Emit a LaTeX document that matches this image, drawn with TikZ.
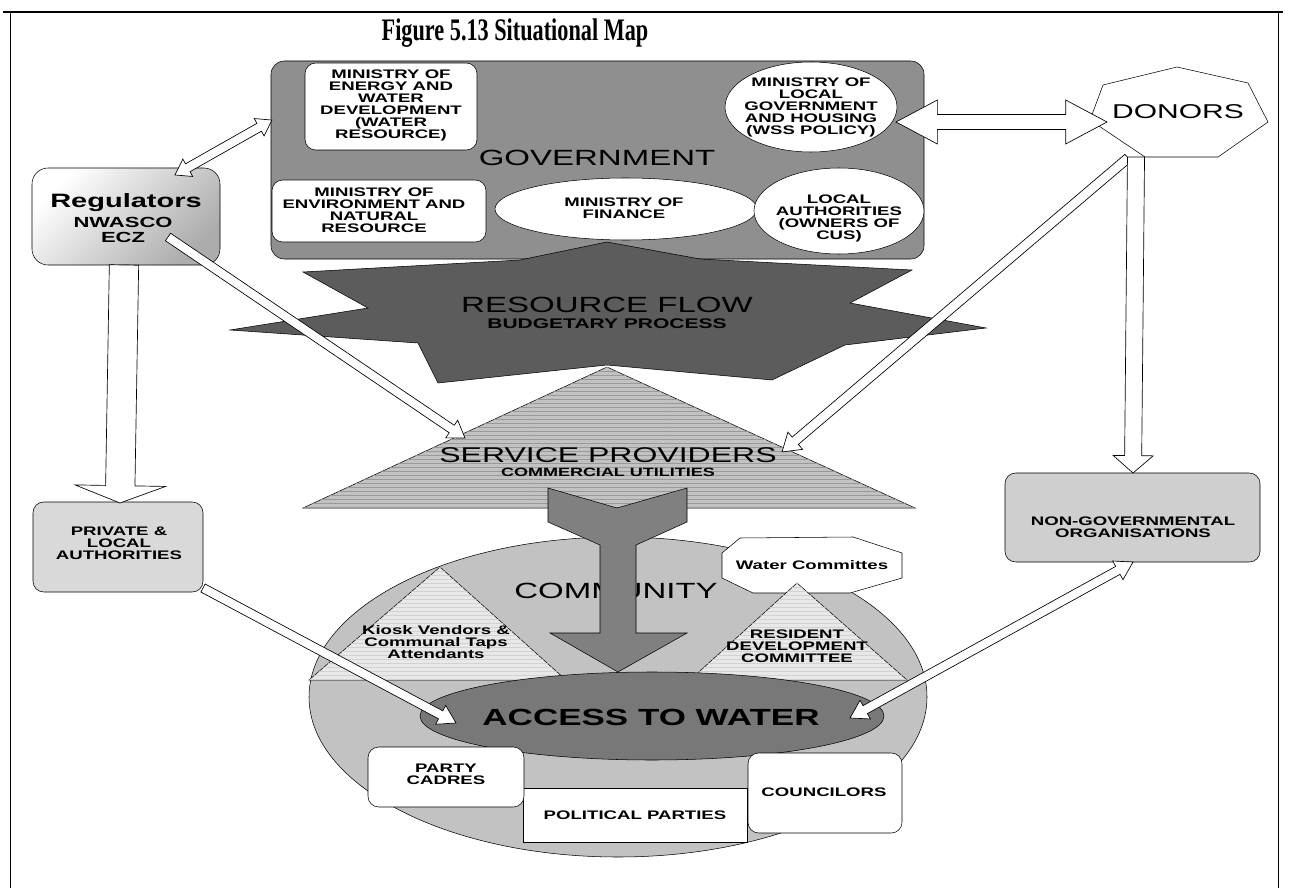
\documentclass[tikz,border=0pt]{standalone}
\usepackage{fontspec}
\setmainfont{Liberation Sans}
\newfontfamily\widesf[FakeStretch=1.5]{Liberation Sans}
\newfontfamily\titlerm[FakeStretch=0.71]{Liberation Serif}
\usepackage{tikz}
\usetikzlibrary{calc,patterns}
\definecolor{govgray}{gray}{0.56}
\definecolor{stargray}{gray}{0.36}
\definecolor{provgray}{gray}{0.76}
\definecolor{stripegray}{gray}{0.6}
\definecolor{commgray}{gray}{0.76}
\definecolor{accessgray}{gray}{0.47}
\definecolor{flowgray}{gray}{0.5}
\definecolor{palegray}{gray}{0.91}
\tikzset{
    lbl/.style = {
        font=\widesf\bfseries\fontsize{9.3}{9}\selectfont,
        align=center,
        inner sep=0pt
    },
    biglbl/.style = {
        font=\widesf\fontsize{16.5}{18}\selectfont,
        inner sep=0pt
    },
    whitebox/.style = {
        draw,
        fill=white,
        rounded corners=8pt
    },
    greybox/.style = {
        draw,
        rounded corners=8pt
    },
    fatarrow line/.style = {
        draw,
        fill=white,
        line width=0.5pt
    },
}
% tail, tip, shaft half width, head half width, head length
\newcommand\fatarrow[5]{%
    \path let \p1=(#1), \p2=(#2) in
        \pgfextra{\pgfmathsetmacro\faang{atan2(\y2-\y1,\x2-\x1)}%
            \pgfmathsetmacro\falen{veclen(\x2-\x1,\y2-\y1)}%
            \global\let\faang\faang\global\let\falen\falen};
    \path[fatarrow line, shift={(#1)}, rotate=\faang]
        (0pt,-#3) -- ({\falen pt-#5},-#3) -- ({\falen pt-#5},-#4) -- (\falen pt,0pt)
        -- ({\falen pt-#5},#4) -- ({\falen pt-#5},#3) -- (0pt,#3) -- cycle;
}
\newcommand\fatdarrow[5]{%
    \path let \p1=(#1), \p2=(#2) in
        \pgfextra{\pgfmathsetmacro\faang{atan2(\y2-\y1,\x2-\x1)}%
            \pgfmathsetmacro\falen{veclen(\x2-\x1,\y2-\y1)}%
            \global\let\faang\faang\global\let\falen\falen};
    \path[fatarrow line, shift={(#1)}, rotate=\faang]
        (0pt,0pt) -- (#5,#4) -- (#5,#3) -- ({\falen pt-#5},#3) -- ({\falen pt-#5},#4)
        -- (\falen pt,0pt) -- ({\falen pt-#5},-#4) -- ({\falen pt-#5},-#3)
        -- (#5,-#3) -- (#5,-#4) -- cycle;
}

\begin{document}
\begin{tikzpicture}[x=0.75pt, y=-0.75pt]
    \useasboundingbox (0,0) rectangle (1289,888);
    \draw[line width=1.2pt] (3,12) -- (1283,12);
    \draw (10,12) -- (10,888);
    \draw (1278,12) -- (1278,888);
    \node[font=\titlerm\bfseries\fontsize{23.5}{26}\selectfont] (title) at (515,33) {Figure 5.13 Situational Map};

    % government
    \draw[greybox, fill=govgray, rounded corners=10pt] (271,61) rectangle (924,259);
    \draw[whitebox] (305,63) rectangle (477,150);
    \draw[whitebox] (272,180) rectangle (486,242);
    \draw[fill=white] (626,209) ellipse [x radius=131, y radius=31];
    \draw[fill=white] (811,107) ellipse [x radius=86, y radius=45];
    \draw[fill=white] (839,211) ellipse [x radius=85, y radius=43];
    \node[lbl] (energy) at (391,105) {MINISTRY OF\\ENERGY AND\\WATER\\DEVELOPMENT\\(WATER\\RESOURCE)};
    \node[lbl] (environ) at (374,210) {MINISTRY OF\\ENVIRONMENT AND\\NATURAL\\RESOURCE};
    \node[lbl] (finance) at (624,208) {MINISTRY OF\\FINANCE};
    \node[lbl] (localgov) at (811,107) {MINISTRY OF\\LOCAL\\GOVERNMENT\\AND HOUSING\\(WSS POLICY)};
    \node[lbl] (localauth) at (839,218) {LOCAL\\AUTHORITIES\\(OWNERS OF\\CUS)};
    \node[biglbl] (gov) at (597,158) {GOVERNMENT};

    % regulators and donors
    \draw[greybox, rounded corners=12pt, top color=white, bottom color=gray!65, shading angle=45] (32,168) rectangle (220,265);
    \node[lbl, font=\widesf\bfseries\fontsize{14.5}{16}\selectfont] (regul) at (126,203) {Regulators};
    \node[lbl, font=\widesf\bfseries\fontsize{11}{12}\selectfont] (nwasco) at (123,222) {NWASCO};
    \node[lbl, font=\widesf\bfseries\fontsize{11}{12}\selectfont] (ecz) at (123,237) {ECZ};
    \draw[fill=white] (1177,67) -- (1248,83) -- (1268,122) -- (1218,157) -- (1145,157) -- (1090,120) -- (1103,85) -- cycle;
    \node[biglbl, font=\widesf\fontsize{15}{18}\selectfont] (donors) at (1178,112) {DONORS};

    % resource flow
    \draw[fill=stargray] (607,242) -- (700,259) -- (912,270) -- (850,303) -- (986,328) -- (845,345)
        -- (772,380) -- (607,365) -- (438,383) -- (418,343) -- (230,330) -- (368,308)
        -- (303,272) -- (520,260) -- cycle;
    \node[biglbl] (resflow) at (607,305) {RESOURCE FLOW};
    \node[lbl, font=\widesf\bfseries\fontsize{10.5}{12}\selectfont] (budget) at (607,324) {BUDGETARY PROCESS};

    % community
    \draw[fill=commgray] (618,697) ellipse [x radius=309, y radius=160];
    \draw[fill=palegray, postaction={pattern=horizontal lines, pattern color=gray!35}] (440,567) -- (566,680) -- (309,680) -- cycle;
    \draw[fill=white] (740,538) -- (853,537) -- (902,553) -- (902,578) -- (850,593) -- (753,593) -- (722,578) -- (722,553) -- cycle;
    \draw[fill=palegray, postaction={pattern=horizontal lines, pattern color=gray!35}] (797,583) -- (907,680) -- (690,680) -- cycle;
    \node[lbl] (kiosk) at (436,642) {Kiosk Vendors \&\\Communal Taps\\Attendants};
    \node[lbl] (resident) at (797,646) {RESIDENT\\DEVELOPMENT\\COMMITTEE};
    \node[lbl] (watercom) at (812,565) {Water Committes};
    \node[biglbl] (community) at (616,591) {COMMUNITY};
    \draw[fill=accessgray] (652,716) ellipse [x radius=232, y radius=44];
    \node[lbl, font=\widesf\bfseries\fontsize{17.5}{19}\selectfont] (access) at (651,717) {ACCESS TO WATER};
    \draw[fill=white] (523,788) rectangle (747,842);
    \draw[whitebox] (368,747) rectangle (524,807);
    \draw[whitebox] (748,753) rectangle (902,833);
    \node[lbl] (parties) at (635,815) {POLITICAL PARTIES};
    \node[lbl] (cadres) at (446,774) {PARTY\\CADRES};
    \node[lbl] (councilors) at (824,792) {COUNCILORS};

    % service providers
    \draw[fill=provgray, postaction={pattern=horizontal lines, pattern color=stripegray}] (607,367) -- (915,508) -- (303,508) -- cycle;
    \node[biglbl, font=\widesf\fontsize{16}{18}\selectfont] (provider) at (608,455) {SERVICE PROVIDERS};
    \node[lbl, font=\widesf\bfseries\fontsize{9}{10}\selectfont] (utilities) at (608,472) {COMMERCIAL UTILITIES};
    \draw[fill=flowgray] (548,488) -- (617,508) -- (687,488) -- (687,522) -- (636,545) -- (636,633)
        -- (687,633) -- (618,672) -- (550,633) -- (600,633) -- (600,545) -- (548,522) -- cycle;

    % other actors
    \draw[greybox, fill=gray!30] (33,502) rectangle (203,592);
    \node[lbl] (private) at (119,543) {PRIVATE \&\\LOCAL\\AUTHORITIES};
    \draw[greybox, fill=gray!38] (1005,473) rectangle (1260,562);
    \node[lbl] (ngo) at (1133,527) {NON-GOVERNMENTAL\\ORGANISATIONS};

    % flows
    \coordinate (regul-ne) at (175,175);
    \coordinate (gov-w) at (272,120);
    \coordinate (ecz-out) at (168,237);
    \coordinate (prov-w) at (465,438);
    \coordinate (regul-s) at (124,265);
    \coordinate (private-n) at (120,503);
    \coordinate (localgov-e) at (896,122);
    \coordinate (donors-w) at (1107,122);
    \coordinate (donors-sw) at (1128,158);
    \coordinate (prov-e) at (782,452);
    \coordinate (donors-s) at (1136,157);
    \coordinate (ngo-n) at (1133,473);
    \coordinate (private-se) at (203,588);
    \coordinate (access-w) at (456,723);
    \coordinate (ngo-s) at (1133,562);
    \coordinate (access-e) at (850,718);
    \fatdarrow{regul-ne}{gov-w}{3.4pt}{7.5pt}{11pt}
    \fatarrow{ecz-out}{prov-w}{3.4pt}{8pt}{12pt}
    \fatarrow{regul-s}{private-n}{11pt}{34pt}{13pt}
    \fatdarrow{localgov-e}{donors-w}{5.6pt}{16.5pt}{31pt}
    \fatarrow{donors-sw}{prov-e}{3.6pt}{8.5pt}{13pt}
    \fatarrow{donors-s}{ngo-n}{6.4pt}{15pt}{13pt}
    \fatarrow{private-se}{access-w}{3.4pt}{8pt}{13pt}
    \fatdarrow{ngo-s}{access-e}{3.4pt}{8pt}{13pt}
\end{tikzpicture}
\end{document}
